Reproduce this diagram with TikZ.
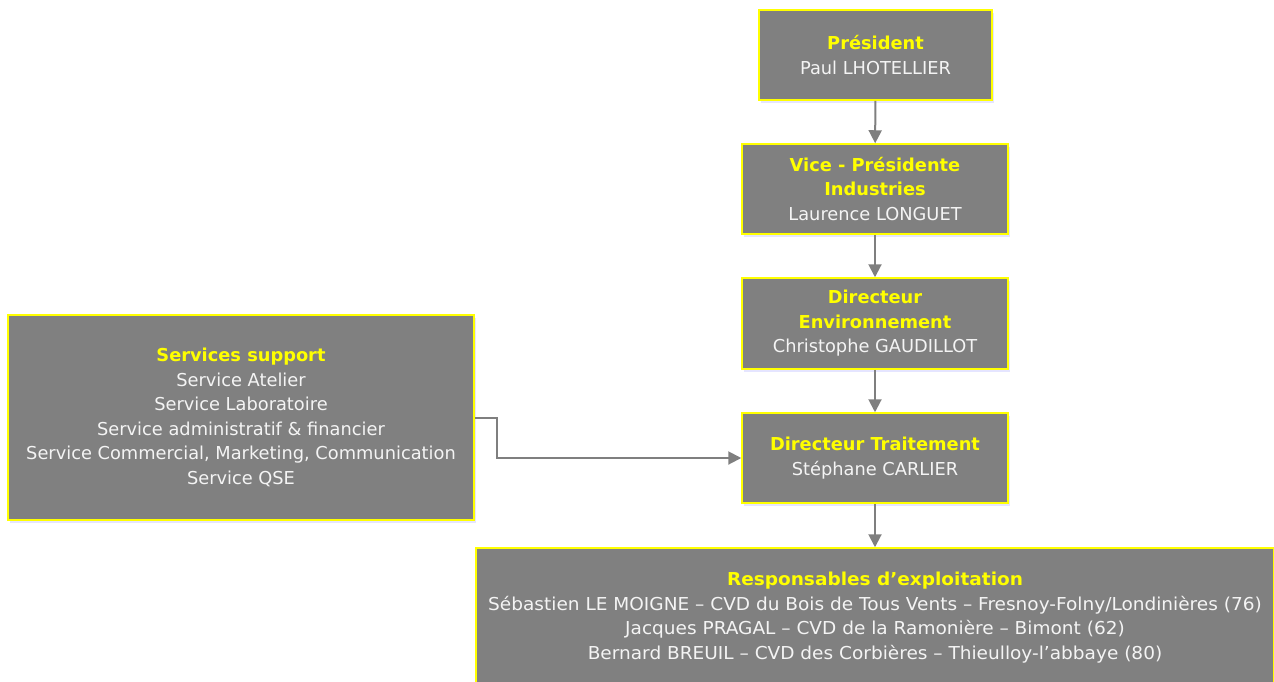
\documentclass[tikz,border=0pt]{standalone}
\usepackage{fontspec}
\setmainfont{DejaVu Sans}
\usetikzlibrary{arrows.meta,shadows}
\definecolor{boxgrey}{HTML}{808080}
\definecolor{linegrey}{HTML}{7F7F7F}
\definecolor{titleyellow}{HTML}{FFFF00}
\definecolor{nametext}{HTML}{F4F4F4}
\newcommand{\boxtitle}[1]{{\bfseries\color{titleyellow}#1}}
\newcommand{\wideline}[1]{\scalebox{1.04}[1]{#1}}
\tikzset{
  orgbox/.style={rectangle,fill=boxgrey,draw=titleyellow,line width=1.5pt,
    text=nametext,align=center,inner sep=0pt,
    font=\fontsize{17.8}{24.5}\selectfont,
    drop shadow={shadow xshift=1.5pt,shadow yshift=-3pt,fill=blue!40!white,opacity=0.25}},
  conn/.style={line width=2pt,draw=linegrey,-{Triangle[length=13pt,width=13pt]}}
}
\begin{document}
\begin{tikzpicture}[x=1pt,y=-1pt]
  \useasboundingbox (0,0) rectangle (1274,681);

  \node[orgbox,minimum width=233pt,minimum height=90pt] (pres) at (875.5,55)
    {\boxtitle{Président}\\Paul LHOTELLIER};
  \node[orgbox,minimum width=266pt,minimum height=90pt] (vice) at (875,189)
    {\boxtitle{Vice - Présidente}\\\boxtitle{Industries}\\Laurence LONGUET};
  \node[orgbox,minimum width=266pt,minimum height=91pt] (env) at (875,323.5)
    {\boxtitle{Directeur}\\\boxtitle{Environnement}\\Christophe GAUDILLOT};
  \node[orgbox,minimum width=266pt,minimum height=90pt] (trait) at (875,458)
    {\boxtitle{Directeur Traitement}\\Stéphane CARLIER};
  \node[orgbox,minimum width=466pt,minimum height=205pt] (supp) at (241,417.5)
    {\boxtitle{Services support}\\Service Atelier\\Service Laboratoire\\
     Service administratif \& financier\\Service Commercial, Marketing, Communication\\
     Service QSE};
  \node[orgbox,minimum width=798pt,minimum height=139pt] (resp) at (875,617.5)
    {\wideline{\boxtitle{Responsables d’exploitation}}\\
     \wideline{Sébastien LE MOIGNE – CVD du Bois de Tous Vents – Fresnoy-Folny/Londinières (76)}\\
     \wideline{Jacques PRAGAL – CVD de la Ramonière – Bimont (62)}\\
     \wideline{Bernard BREUIL – CVD des Corbières – Thieulloy-l’abbaye (80)}};

  \draw[conn] (pres) -- (vice);
  \draw[conn] (vice) -- (env);
  \draw[conn] (env) -- (trait);
  \draw[conn] (trait) -- (resp);
  \draw[conn] (supp.east) -- ++(22,0) |- (trait.west);
\end{tikzpicture}
\end{document}
